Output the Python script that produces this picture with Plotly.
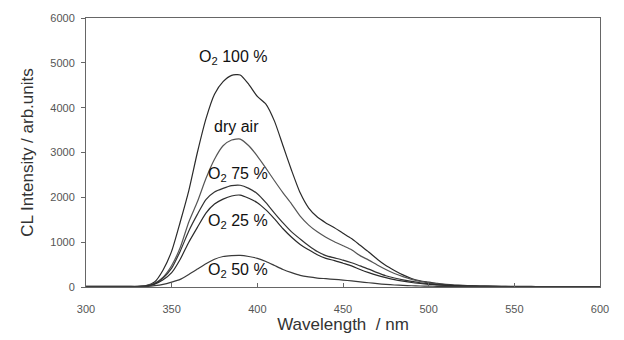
import plotly.graph_objects as go

wavelength = list(range(300, 605, 5))

o2_100 = [15, 15, 15, 15, 15, 15, 15, 30, 110, 380, 800, 1450, 2150, 3000, 3750, 4300, 4580, 4720, 4730,
          4520, 4250, 4080, 3700, 3150, 2600, 2100, 1760, 1560, 1430, 1320, 1200, 1080, 930, 780, 620,
          480, 370, 270, 190, 140, 110, 80, 60, 45, 35, 28, 22, 18, 15, 14, 13, 12, 12, 11, 11, 10, 10,
          10, 10, 10, 10]
dry_air = [12, 12, 12, 12, 12, 12, 12, 25, 80, 220, 480, 880, 1450, 1900, 2420, 2850, 3150, 3280, 3300,
           3150, 2920, 2650, 2370, 2100, 1850, 1580, 1380, 1230, 1110, 1010, 920, 830, 700, 600, 490,
           390, 300, 230, 170, 125, 95, 70, 50, 38, 30, 24, 20, 16, 14, 12, 11, 10, 10, 9, 9, 8, 8,
           8, 8, 8, 8]
o2_75 = [10, 10, 10, 10, 10, 10, 10, 20, 70, 200, 420, 800, 1250, 1620, 1950, 2120, 2200, 2260, 2270,
         2200, 2080, 1880, 1650, 1430, 1230, 1070, 920, 790, 700, 650, 600, 540, 470, 400, 320,
         250, 200, 160, 125, 95, 75, 55, 42, 32, 25, 20, 17, 14, 12, 11, 10, 9, 9, 8, 8, 8, 8,
         8, 8, 8, 8]
o2_25 = [10, 10, 10, 10, 10, 10, 10, 18, 60, 160, 320, 620, 1000, 1330, 1650, 1850, 1960, 2030, 2050,
         1980, 1880, 1720, 1520, 1300, 1110, 950, 830, 720, 640, 590, 530, 470, 390, 320, 260,
         210, 165, 130, 100, 78, 60, 45, 35, 27, 22, 18, 15, 13, 11, 10, 9, 9, 8, 8, 8, 8, 8,
         8, 8, 8, 8]
o2_50 = [8, 8, 8, 8, 8, 8, 8, 10, 30, 60, 110, 170, 280, 400, 520, 620, 680, 700, 705,
         680, 640, 570, 480, 390, 320, 260, 225, 200, 185, 170, 155, 135, 115, 95, 75,
         58, 45, 35, 28, 22, 18, 15, 13, 11, 10, 9, 8, 8, 7, 7, 7, 7, 7, 7, 7, 7, 7,
         7, 7, 7, 7]

series = [
    ("O2 100 %", o2_100, "#2a2a2a"),
    ("dry air", dry_air, "#555555"),
    ("O2 75 %", o2_75, "#333333"),
    ("O2 25 %", o2_25, "#2a2a2a"),
    ("O2 50 %", o2_50, "#3a3a3a"),
]

labels = ["O<sub>2</sub> 100 %", "dry air", "O<sub>2</sub> 75 %", "O<sub>2</sub> 25 %", "O<sub>2</sub> 50 %"]
label_x = [386, 388, 389, 389, 389]
label_y = [5130, 3580, 2520, 1470, 370]

x_ticks = [300, 350, 400, 450, 500, 550, 600]
y_ticks = [0, 1000, 2000, 3000, 4000, 5000, 6000]

fig = go.Figure()
for name, vals, col in series:
    fig.add_trace(go.Scatter(x=wavelength, y=vals, mode="lines", name=name,
                             line=dict(color=col, width=1.2, shape="spline", smoothing=0.6),
                             showlegend=False))

for t, lx, ly in zip(labels, label_x, label_y):
    fig.add_annotation(x=lx, y=ly, text=t, showarrow=False,
                       font=dict(family="Liberation Sans, Arial", size=16, color="#111111"))

fig.update_layout(
    width=624, height=340,
    margin=dict(l=86, r=24, t=14, b=53),
    paper_bgcolor="white", plot_bgcolor="white",
    font=dict(family="Liberation Sans, Arial", color="#444444"),
)
fig.update_xaxes(range=[300, 600], tickvals=x_ticks, ticks="inside", ticklen=4,
                 tickcolor="#666666", showline=True, linecolor="#666666", linewidth=1,
                 mirror=True, showgrid=False, zeroline=False, ticklabelstandoff=12,
                 tickfont=dict(size=11, color="#555555"),
                 title=dict(text="Wavelength  / nm", font=dict(size=17, color="#333333"), standoff=0))
fig.update_yaxes(range=[0, 6000], tickvals=y_ticks, ticks="outside", ticklen=4,
                 tickcolor="#666666", showline=True, linecolor="#666666", linewidth=1,
                 mirror=True, showgrid=False, zeroline=False, ticklabelstandoff=4,
                 tickfont=dict(size=11, color="#555555"),
                 title=dict(text="CL Intensity / arb.units", font=dict(size=17, color="#333333"), standoff=12))

fig.write_html("out.html", config={"displayModeBar": False},
               post_script="document.body.style.margin='0px';document.body.style.overflow='hidden';")
